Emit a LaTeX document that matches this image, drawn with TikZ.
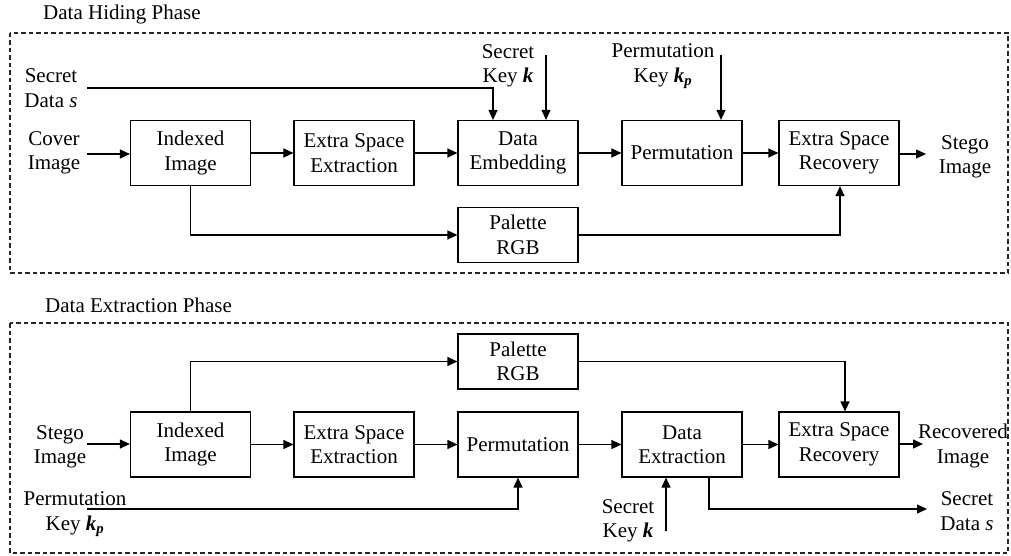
\documentclass[tikz,border=0pt]{standalone}
\usepackage{fontspec}
\setmainfont{Liberation Serif}
\usetikzlibrary{arrows.meta}
\newcommand{\kk}{\textbf{\textit{k}}}
\newcommand{\kp}{\textbf{\textit{k}}\textsubscript{\textbf{\textit{p}}}}
\begin{document}
\begin{tikzpicture}[x=1pt,y=-1pt,
  txt/.style={font=\fontsize{21}{24.5}\selectfont, align=center, inner sep=0pt},
  blk/.style={txt, draw, line width=1.2pt, minimum width=120pt, minimum height=65pt},
  pal/.style={blk, minimum height=55pt},
  conn/.style={line width=1.2pt, -{Triangle[length=10pt,width=9pt]}},
  phase/.style={draw=black!85, line width=1.1pt, dash pattern=on 4.5pt off 3pt}]
\useasboundingbox (0,0) rectangle (1011,556);
% frames
\draw[phase] (10,33) rectangle (1008,273);
\draw[phase] (10,323) rectangle (1008,553);
\node[txt, anchor=west] (t1) at (43,14) {Data Hiding Phase};
\node[txt, anchor=west] (t2) at (45,305) {Data Extraction Phase};

% ---------- hiding ----------
\node[blk] (ii) at (190.5,153) {Indexed\\Image};
\node[blk] (ese) at (354,153) {Extra Space\\Extraction};
\node[blk] (de) at (518,153) {Data\\Embedding};
\node[blk] (pm) at (682,153) {Permutation};
\node[blk] (esr) at (839,153) {Extra Space\\Recovery};
\node[pal] (pl) at (518,235) {Palette\\RGB};

\node[txt] (lsd) at (51,88) {Secret\\Data \textit{s}};
\node[txt] (lci) at (54,153) {Cover\\Image};
\node[txt] (lsk) at (508,66) {Secret\\Key \kk};
\node[txt] (lpk) at (663,66) {Permutation\\Key \kp};
\node[txt] (lsi) at (965,157) {Stego\\Image};

\coordinate (cin) at (87,154);
\coordinate (cout) at (926,154);
\coordinate (csd) at (87,88);
\coordinate (csk) at (546,55);
\coordinate (cpk) at (721,55);

\draw[conn] (cin) -- (ii.west |- cin);
\draw[conn] (ii) -- (ese);
\draw[conn] (ese) -- (de);
\draw[conn] (de) -- (pm);
\draw[conn] (pm) -- (esr);
\draw[conn] (esr.east |- cout) -- (cout);
\draw[conn] (csd) -| ([xshift=-25pt]de.north);
\draw[conn] (csk) -- (csk |- de.north);
\draw[conn] (cpk) -- (cpk |- pm.north);
\draw[conn] (ii.south) |- (pl.west);
\draw[conn] (pl.east) -| ([xshift=1pt]esr.south);

% ---------- extraction ----------
\node[blk] (ii2) at (190.5,444.5) {Indexed\\Image};
\node[blk] (ese2) at (354,444.5) {Extra Space\\Extraction};
\node[blk] (pm2) at (518,444.5) {Permutation};
\node[blk] (dx) at (682,444.5) {Data\\Extraction};
\node[blk] (esr2) at (839,444.5) {Extra Space\\Recovery};
\node[pal] (pl2) at (518,361.5) {Palette\\RGB};

\node[txt] (lsi2) at (60,447) {Stego\\Image};
\node[txt] (lpk2) at (75,514) {Permutation\\Key \kp};
\node[txt] (lsk2) at (628,521) {Secret\\Key \kk};
\node[txt] (lri) at (963,446) {Recovered\\Image};
\node[txt] (lsd2) at (967,511) {Secret\\Data \textit{s}};

\coordinate (cin2) at (87,444);
\coordinate (cout2) at (923,444);
\coordinate (cpk2) at (87,509);
\coordinate (csk2) at (666,531);
\coordinate (csd2) at (927,509);

\draw[conn] (cin2) -- (ii2.west |- cin2);
\draw[conn] (ii2) -- (ese2);
\draw[conn] (ese2) -- (pm2);
\draw[conn] (pm2) -- (dx);
\draw[conn] (dx) -- (esr2);
\draw[conn] (esr2.east |- cout2) -- (cout2);
\draw[conn] (ii2.north) |- (pl2.west);
\draw[conn] (pl2.east) -| ([xshift=6pt]esr2.north);
\draw[conn] (cpk2) -| (pm2.south);
\draw[conn] (csk2) -- (csk2 |- dx.south);
\draw[conn] ([xshift=27pt]dx.south) |- (csd2);
\end{tikzpicture}
\end{document}
